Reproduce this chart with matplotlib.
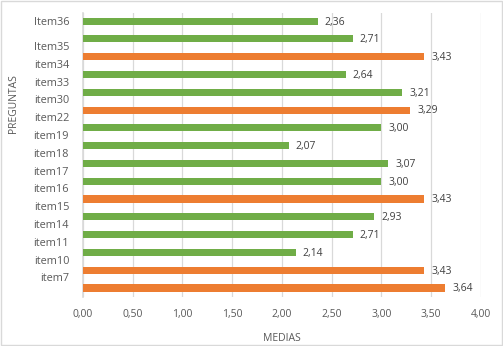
import matplotlib

matplotlib.use("Agg")
import matplotlib.pyplot as plt
from matplotlib.ticker import FuncFormatter, MultipleLocator
from matplotlib.patches import Rectangle

# data, top to bottom
items = ["Item36", "Item35", "item34", "item33", "item30", "item22", "item19", "item18",
         "item17", "item16", "item15", "item14", "item11", "item10", "item7"]
medias = [2.36, 2.71, 3.43, 2.64, 3.21, 3.29, 3.00, 2.07, 3.07, 3.00, 3.43, 2.93, 2.71, 2.14, 3.43, 3.64]
destacado = [False, False, True, False, False, True, False, False, False, False, True, False, False, False, True, True]

GREEN = "#70ad47"
ORANGE = "#ed7d31"
TEXT = "#595959"

plt.rcParams["font.family"] = ["Open Sans", "DejaVu Sans"]

fig = plt.figure(figsize=(5.03, 3.46), dpi=100)
ax = fig.add_axes([0.165, 0.142, 0.791, 0.820])

ys = list(range(len(medias)))
colors = [ORANGE if d else GREEN for d in destacado]
ax.barh(ys, medias, height=0.4, color=colors, zorder=3)

for y, v in zip(ys, medias):
    ax.text(v + 0.07, y + 0.05, f"{v:.2f}".replace(".", ","), va="center", ha="left",
            fontsize=7.5, color="#404040", zorder=4)

# the label column sits a bit off the bars, like the original sheet
label_pos = [0] + [i + 0.4 for i in range(1, len(items))]
ax.set_yticks(label_pos)
ax.set_yticklabels(items, fontsize=7.8, color=TEXT)
ax.tick_params(axis="y", length=0, pad=10)

ax.set_xlim(0, 4)
ax.xaxis.set_major_locator(MultipleLocator(0.5))
ax.xaxis.set_major_formatter(FuncFormatter(lambda v, _p: f"{v:.2f}".replace(".", ",")))
ax.tick_params(axis="x", length=0, labelsize=7.5, labelcolor=TEXT, pad=9)
ax.set_ylim(15.5, -0.45)

ax.grid(True, axis="x", color="#d9d9d9", linewidth=0.9, zorder=0)
ax.spines[["top", "right", "bottom"]].set_visible(False)
ax.spines["left"].set_color("#d9d9d9")
ax.spines["left"].set_linewidth(1.2)

ax.set_xlabel("MEDIAS", fontsize=7.5, color=TEXT, labelpad=9)
fig.text(0.026, 0.70, "PREGUNTAS", rotation=90, fontsize=7.5, color=TEXT, va="center", ha="center")

fig.add_artist(Rectangle((0.002, 0.002), 0.996, 0.996, transform=fig.transFigure,
                         fill=False, edgecolor="#d9d9d9", linewidth=1))

fig.savefig("out.png", dpi=100)
